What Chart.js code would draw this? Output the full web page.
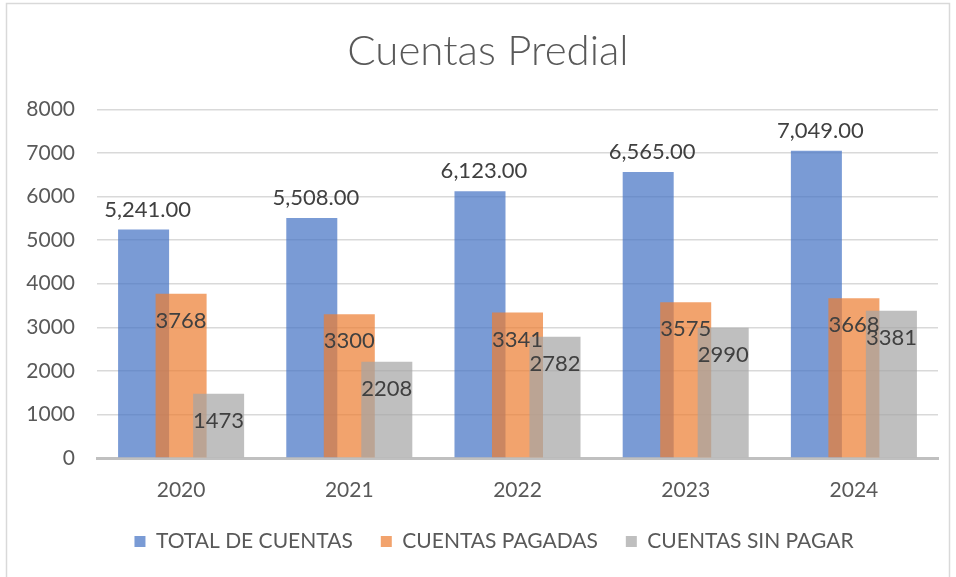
<!DOCTYPE html>
<html>
<head>
<meta charset="utf-8">
<script src="https://cdn.jsdelivr.net/npm/chart.js@4"></script>
<style>
  html, body { margin: 0; padding: 0; background: #fff; }
  #wrap { width: 956px; height: 577px; position: relative; }
</style>
</head>
<body>
<div id="wrap"><canvas id="chart"></canvas></div>
<script>
// Chart data
const years = ['2020', '2021', '2022', '2023', '2024'];
const totalCuentas = [5241, 5508, 6123, 6565, 7049];
const cuentasPagadas = [3768, 3300, 3341, 3575, 3668];
const cuentasSinPagar = [1473, 2208, 2782, 2990, 3381];
const yTicks = [0, 1000, 2000, 3000, 4000, 5000, 6000, 7000, 8000];

const FONT = 'Lato, "Open Sans", sans-serif';
const TEXT = '#595959';

// Thin frame around the chart, like the Excel chart border
const framePlugin = {
    id: 'frame',
    beforeDraw(chart) {
        const ctx = chart.ctx;
        ctx.save();
        ctx.fillStyle = '#fff';
        ctx.fillRect(0, 0, chart.width, chart.height);
        ctx.strokeStyle = '#D9D9D9';
        ctx.lineWidth = 1.5;
        ctx.strokeRect(6.5, 3.5, 943, 620);
        ctx.restore();
    },
    afterLayout(chart) {
        // nudge title and legend so they are centred like in the original
        if (chart.titleBlock) chart.titleBlock.left += 30;
        if (chart.legend) chart.legend.left += 42;
    }
};

// Draw datasets in index order so later series sit on top (overlapping bars)
const drawOrderPlugin = {
    id: 'drawOrder',
    beforeDatasetsDraw(chart) {
        const metas = chart.getSortedVisibleDatasetMetas().slice().sort((a, b) => a.index - b.index);
        const area = chart.chartArea;
        metas.forEach(meta => {
            const ctx = chart.ctx;
            ctx.save();
            ctx.beginPath();
            ctx.rect(area.left, area.top - 5, area.right - area.left, area.bottom - area.top + 5);
            ctx.clip();
            meta.controller.draw();
            ctx.restore();
        });
        return false;
    }
};

// Value labels
const labelsPlugin = {
    id: 'valueLabels',
    afterDraw(chart) {
        const ctx = chart.ctx;
        ctx.save();
        ctx.font = '22px ' + FONT;
        ctx.fillStyle = '#404040';
        ctx.textAlign = 'center';
        ctx.textBaseline = 'middle';
        chart.data.datasets.forEach((ds, i) => {
            const meta = chart.getDatasetMeta(i);
            meta.data.forEach((bar, j) => {
                const v = ds.data[j];
                if (i === 0) {
                    const txt = v.toLocaleString('en-US', { minimumFractionDigits: 2, maximumFractionDigits: 2 });
                    ctx.fillText(txt, bar.x + 4, bar.y - 20);
                } else {
                    ctx.fillText(String(v), bar.x, bar.y + 27);
                }
            });
        });
        ctx.restore();
    }
};

function initChart() {
    const ctx = document.getElementById('chart').getContext('2d');
    new Chart(ctx, {
        type: 'bar',
        data: {
            labels: years,
            datasets: [
                { label: 'TOTAL DE CUENTAS', data: totalCuentas, backgroundColor: 'rgba(68, 114, 196, 0.71)' },
                { label: 'CUENTAS PAGADAS', data: cuentasPagadas, backgroundColor: 'rgba(237, 125, 49, 0.71)' },
                { label: 'CUENTAS SIN PAGAR', data: cuentasSinPagar, backgroundColor: 'rgba(165, 165, 165, 0.71)' }
            ]
        },
        options: {
            responsive: true,
            maintainAspectRatio: false,
            animation: false,
            categoryPercentage: 0.669,
            barPercentage: 1.36,
            layout: { padding: { left: 8, right: 18, top: 0, bottom: 15 } },
            plugins: {
                title: {
                    display: true,
                    text: 'Cuentas Predial',
                    color: TEXT,
                    font: { family: FONT, size: 42, weight: 300 },
                    padding: { top: 26, bottom: 33 }
                },
                legend: {
                    position: 'bottom',
                    maxHeight: 60,
                    labels: {
                        color: TEXT,
                        font: { family: FONT, size: 21 },
                        boxWidth: 11,
                        boxHeight: 11,
                        padding: 28
                    }
                },
                tooltip: { enabled: false }
            },
            scales: {
                x: {
                    grid: { display: false, drawTicks: false },
                    border: { color: '#C0C0C0', width: 3 },
                    ticks: { color: TEXT, font: { family: FONT, size: 21 }, padding: 20 },
                    afterFit(scale) { scale.height = 45; }
                },
                y: {
                    min: 0,
                    max: 8000,
                    afterBuildTicks(scale) { scale.ticks = yTicks.map(v => ({ value: v })); },
                    grid: { color: '#D9D9D9', lineWidth: 1.5, drawTicks: false },
                    border: { display: false },
                    ticks: {
                        color: TEXT,
                        font: { family: FONT, size: 21 },
                        padding: 22,
                        callback: v => String(v)
                    },
                    afterFit(scale) { scale.width = 89; }
                }
            }
        },
        plugins: [framePlugin, drawOrderPlugin, labelsPlugin]
    });
}

document.addEventListener('DOMContentLoaded', initChart);
</script>
</body>
</html>
